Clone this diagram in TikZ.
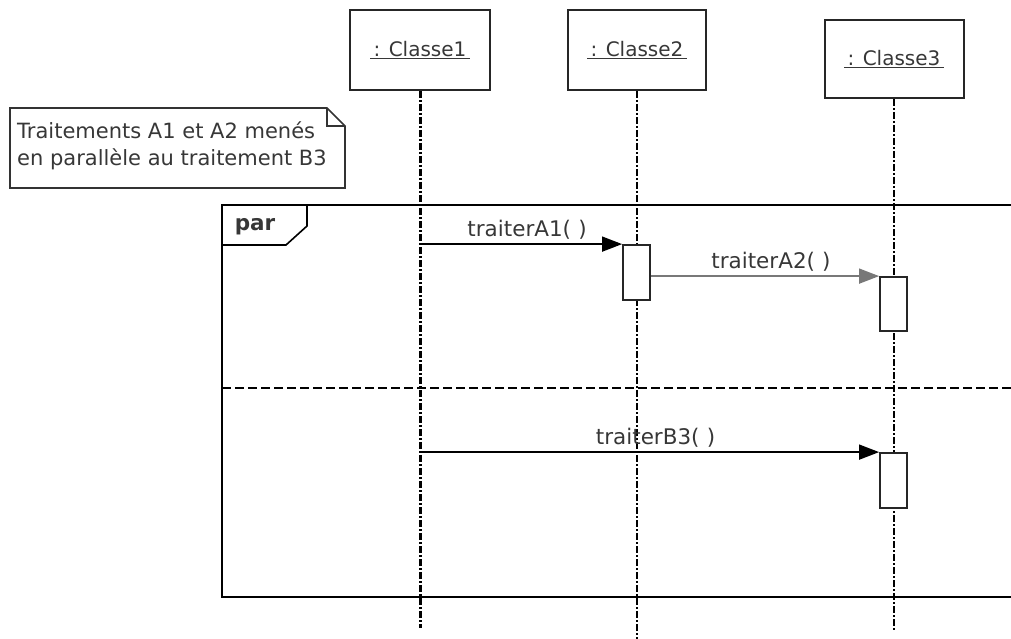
\documentclass[tikz,border=0pt]{standalone}
\usepackage{fontspec}
\setmainfont{DejaVu Sans}
\usetikzlibrary{
  arrows.meta,
  positioning,
  calc
}
\definecolor{inkgray}{RGB}{55,55,55}
\definecolor{linegray}{RGB}{120,120,120}

\begin{document}
\begin{tikzpicture}[x=1pt,y=-1pt,
  objbox/.style={draw=black!85,line width=2pt,minimum width=140pt,minimum height=80pt,
    inner sep=0pt,text=inkgray,font=\fontsize{20}{24}\selectfont},
  lifeline/.style={line width=1.6pt,dash pattern=on 7pt off 2pt on 2pt off 2pt},
  actbox/.style={draw=black!85,line width=1.8pt,fill=white,minimum width=27pt,
    minimum height=55pt,inner sep=0pt},
  msg/.style={-{Triangle[length=20pt,width=15pt]},line width=1.5pt},
  msglabel/.style={text=inkgray,font=\fontsize{21.5}{24}\selectfont,above=1pt}]
  \useasboundingbox (0,0) rectangle (1011,639);

  % objects
  \node[objbox] (c1) at (420,50) {\underline{\,: Classe1\,}};
  \node[objbox,minimum width=138pt] (c2) at (637,50) {\underline{\,: Classe2\,}};
  \node[objbox,minimum width=139pt,minimum height=78pt] (c3) at (894,59) {\underline{\,: Classe3\,}};

  % note
  \draw[line width=1.6pt,black!80] (10,108) -- (327,108) -- (345,126) -- (345,188)
    -- (10,188) -- cycle;
  \draw[line width=1.4pt,black!80] (327,108) -- (327,126) -- (345,126);
  \node[anchor=west,align=left,text=inkgray,font=\fontsize{21}{27}\selectfont,inner sep=0pt]
    (note) at (17,146) {Traitements A1 et A2 menés\\en parallèle au traitement B3};

  % par fragment
  \draw[line width=2pt] (1015,205) -- (222,205) -- (222,597) -- (1015,597);
  \draw[line width=1.6pt] (222,245) -- (286,245) -- (307,226) -- (307,205);
  \node[font=\fontsize{21.5}{24}\selectfont\bfseries,text=inkgray] (par) at (255,227) {par};
  \draw[line width=2pt,dash pattern=on 9pt off 4pt] (222,388) -- (1015,388);

  % lifelines
  \coordinate (e1) at (420,628);
  \coordinate (e2) at (637,639);
  \coordinate (e3) at (894,630);
  \draw[lifeline,line width=3pt] (c1.south) -- (e1);
  \draw[lifeline] (c2.south) -- (e2);
  \draw[lifeline,line width=2.2pt] (c3.south) -- (e3);

  % activations
  \node[actbox] (a2) at (636.5,272.5) {};
  \node[actbox,minimum height=54pt] (a3) at (893.5,304) {};
  \node[actbox] (b3) at (893.5,480.5) {};

  % messages
  \draw[msg] (c1 |- a2.north west) -- (a2.north west)
    node[msglabel,midway,xshift=6pt] {traiterA1(\,\,)};
  \draw[msg,draw=linegray] (a2.east |- a3.north west) -- (a3.north west)
    node[msglabel,midway,xshift=6pt] {traiterA2(\,\,)};
  \draw[msg] (c1 |- b3.north west) -- (b3.north west)
    node[msglabel,midway,xshift=6pt] {traiterB3(\,\,)};
\end{tikzpicture}
\end{document}
